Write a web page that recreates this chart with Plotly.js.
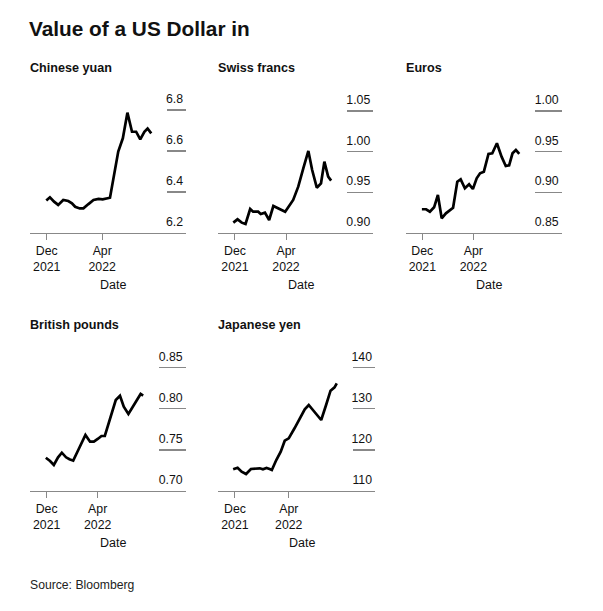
<!DOCTYPE html>
<html>
<head>
<meta charset="utf-8">
<script src="https://cdn.plot.ly/plotly-3.0.1.min.js"></script>
<style>html,body{margin:0;padding:0;background:#fff;}#chart{width:603px;height:611px;}</style>
</head>
<body>
<div id="chart"></div>
<script>
// ---- Data ----
const currencies = ["Chinese yuan", "Swiss francs", "Euros", "British pounds", "Japanese yen"];

const dates_cny = ["2021-11-30","2021-12-08","2021-12-17","2021-12-26","2022-01-06","2022-01-17","2022-01-25","2022-02-01","2022-02-11","2022-02-19","2022-03-02","2022-03-13","2022-03-24","2022-04-02","2022-04-18","2022-04-26","2022-05-06","2022-05-16","2022-05-26","2022-06-05","2022-06-14","2022-06-23","2022-07-02","2022-07-09","2022-07-17"];
const vals_cny = [6.358,6.374,6.353,6.337,6.361,6.356,6.345,6.328,6.32,6.32,6.341,6.361,6.366,6.364,6.372,6.475,6.597,6.662,6.787,6.694,6.694,6.657,6.694,6.71,6.686];

const dates_chf = ["2021-11-27","2021-12-07","2021-12-17","2021-12-26","2022-01-06","2022-01-13","2022-01-25","2022-01-31","2022-02-10","2022-02-20","2022-03-02","2022-03-18","2022-03-30","2022-04-18","2022-04-30","2022-05-12","2022-05-24","2022-06-02","2022-06-13","2022-06-23","2022-07-01","2022-07-10","2022-07-17"];
const vals_chf = [0.9127,0.9168,0.9127,0.9111,0.9295,0.9262,0.9262,0.9234,0.925,0.916,0.9332,0.9295,0.9262,0.9406,0.957,0.9796,1.0009,0.9775,0.9557,0.9611,0.9877,0.9693,0.9644];

const dates_eur = ["2021-11-30","2021-12-10","2021-12-19","2021-12-29","2022-01-07","2022-01-16","2022-01-26","2022-02-03","2022-02-12","2022-02-22","2022-03-02","2022-03-12","2022-03-22","2022-03-31","2022-04-09","2022-04-17","2022-04-26","2022-05-07","2022-05-16","2022-05-27","2022-06-07","2022-06-17","2022-06-25","2022-07-03","2022-07-11","2022-07-19"];
const vals_eur = [0.8792,0.8792,0.8762,0.8816,0.8967,0.8681,0.8742,0.8771,0.8811,0.9131,0.916,0.905,0.9099,0.9041,0.9173,0.9234,0.9254,0.9472,0.948,0.9603,0.9439,0.9324,0.9333,0.948,0.9521,0.9472];

const dates_gbp = ["2021-11-29","2021-12-09","2021-12-18","2021-12-28","2022-01-06","2022-01-16","2022-01-24","2022-02-02","2022-02-14","2022-02-22","2022-03-03","2022-03-14","2022-03-23","2022-04-02","2022-04-10","2022-04-18","2022-04-26","2022-05-04","2022-05-14","2022-05-24","2022-06-02","2022-06-13","2022-06-23","2022-07-02","2022-07-12","2022-07-18"];
const vals_gbp = [0.7405,0.7365,0.7316,0.741,0.7466,0.741,0.7386,0.7369,0.7499,0.758,0.7681,0.76,0.76,0.7636,0.7669,0.7669,0.7803,0.7945,0.8107,0.8159,0.8026,0.7937,0.8018,0.8107,0.818,0.8159];

const dates_jpy = ["2021-11-27","2021-12-07","2021-12-16","2021-12-26","2022-01-06","2022-01-16","2022-01-26","2022-02-02","2022-02-10","2022-02-17","2022-02-22","2022-03-04","2022-03-14","2022-03-23","2022-04-01","2022-04-14","2022-04-28","2022-05-07","2022-05-16","2022-05-29","2022-06-13","2022-06-24","2022-07-04","2022-07-13","2022-07-18"];
const vals_jpy = [115.28,115.67,114.70,114.14,115.35,115.35,115.52,115.28,115.60,115.35,115.11,117.54,119.56,122.24,122.82,125.26,128.08,129.88,130.92,129.29,127.27,130.92,134.40,135.23,136.2];

const xTickVals = ["2021-12-01","2022-04-01"];
const xTickText = ["Dec<br>2021","Apr<br>2022"];

const yTicks_cny = [6.2,6.4,6.6,6.8];
const yTicks_chf = [0.90,0.95,1.00,1.05];
const yTicks_eur = [0.85,0.90,0.95,1.00];
const yTicks_gbp = [0.70,0.75,0.80,0.85];
const yTicks_jpy = [110,120,130,140];

// ---- Layout helpers ----
const W = 603, H = 611;
const FONT = "Liberation Sans, Arial, Helvetica, sans-serif";
const TICKSIZE = 12.3;
const px = v => v / W;
const py = v => 1 - v / H;

const series = [
  {name: currencies[0], x: dates_cny, y: vals_cny, ticks: yTicks_cny, fmt: ".1f", left: 30,    right: 186,   top: 88,  bottom: 233, xr: ["2021-10-25 12:00","2022-09-30 19:00"], yr: [6.2, 6.9073],  tl: 19},
  {name: currencies[1], x: dates_chf, y: vals_chf, ticks: yTicks_chf, fmt: ".2f", left: 218.3, right: 373.3, top: 88,  bottom: 233, xr: ["2021-10-22 10:00","2022-10-25 00:00"], yr: [0.90, 1.0783], tl: 26.7},
  {name: currencies[2], x: dates_eur, y: vals_eur, ticks: yTicks_eur, fmt: ".2f", left: 406,   right: 561.7, top: 88,  bottom: 233, xr: ["2021-10-23 08:00","2022-10-27 16:00"], yr: [0.85, 1.0283], tl: 26.7},
  {name: currencies[3], x: dates_gbp, y: vals_gbp, ticks: yTicks_gbp, fmt: ".2f", left: 30,    right: 185.7, top: 345, bottom: 491, xr: ["2021-10-22 10:00","2022-10-27 00:00"], yr: [0.70, 0.8776], tl: 26.7},
  {name: currencies[4], x: dates_jpy, y: vals_jpy, ticks: yTicks_jpy, fmt: "d",   left: 218.3, right: 375,   top: 345, bottom: 491, xr: ["2021-10-24 14:00","2022-10-12 00:00"], yr: [110, 145.52], tl: 21.7}
];

const traces = [];
const layout = {
  width: W, height: H,
  margin: {l: 0, r: 0, t: 0, b: 0},
  paper_bgcolor: "#fff", plot_bgcolor: "#fff",
  showlegend: false,
  font: {family: FONT, color: "#111", size: TICKSIZE},
  title: {
    text: "Value of a US Dollar in",
    x: px(29), xanchor: "left", xref: "paper",
    y: py(28.5), yanchor: "middle", yref: "paper",
    font: {family: FONT, size: 20.8, weight: 700, color: "#111"}
  },
  annotations: [],
  hovermode: false
};

series.forEach((s, i) => {
  const n = i === 0 ? "" : String(i + 1);
  traces.push({
    type: "scatter", mode: "lines",
    x: s.x, y: s.y,
    xaxis: "x" + n, yaxis: "y" + n,
    line: {color: "#000", width: 2.7},
    hoverinfo: "skip"
  });
  layout["xaxis" + n] = {
    domain: [px(s.left), px(s.right)],
    anchor: "y" + n,
    type: "date",
    range: s.xr,
    tickvals: xTickVals, ticktext: xTickText,
    ticks: "outside", ticklen: 6, tickcolor: "#888", tickwidth: 1,
    showline: true, linecolor: "#888", linewidth: 1,
    showgrid: false, zeroline: false,
    tickfont: {family: FONT, size: TICKSIZE, color: "#111"},
    fixedrange: true
  };
  layout["yaxis" + n] = {
    domain: [py(s.bottom), py(s.top)],
    anchor: "x" + n,
    side: "right",
    range: s.yr,
    tickvals: s.ticks, tickformat: s.fmt,
    ticks: "inside", ticklen: s.tl, tickcolor: "#888", tickwidth: 1.3,
    ticklabelposition: "inside top",
    ticklabelshift: -2,
    showline: false, showgrid: false, zeroline: false,
    tickfont: {family: FONT, size: TICKSIZE, color: "#111"},
    fixedrange: true
  };
  // panel title
  layout.annotations.push({
    text: "<b>" + s.name + "</b>",
    xref: "paper", yref: "paper",
    x: px(s.left - 2), y: py(s.top - 20),
    xanchor: "left", yanchor: "middle",
    showarrow: false,
    font: {family: FONT, size: 12.6, color: "#111"}
  });
  // axis title "Date"
  layout.annotations.push({
    text: "Date",
    xref: "paper", yref: "paper",
    x: px((s.left + s.right) / 2 + 5), y: py(s.bottom + 52),
    xanchor: "center", yanchor: "middle",
    showarrow: false,
    font: {family: FONT, size: 12.5, color: "#111"}
  });
});

layout.annotations.push({
  text: "Source: Bloomberg",
  xref: "paper", yref: "paper",
  x: px(28), y: py(585),
  xanchor: "left", yanchor: "middle",
  showarrow: false,
  font: {family: FONT, size: 12.2, color: "#222"}
});

Plotly.newPlot("chart", traces, layout, {displayModeBar: false, staticPlot: true});
</script>
</body>
</html>
